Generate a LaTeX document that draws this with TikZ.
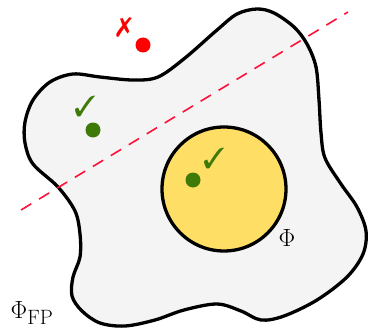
\documentclass[tikz,border=0pt]{standalone}
\usepackage{pifont}
\definecolor{eggwhite}{RGB}{244,244,244}
\definecolor{yolk}{RGB}{255,222,102}
\definecolor{okgreen}{RGB}{62,122,8}
\definecolor{badred}{RGB}{255,0,0}
\definecolor{cutred}{RGB}{255,16,56}
\begin{document}
\begin{tikzpicture}[x=1pt,y=-1pt,
  outline/.style={line width=3.3pt,draw=black},
  dot/.style={circle,inner sep=0pt,minimum size=15pt},
  gooddot/.style={dot,fill=okgreen},
  baddot/.style={dot,fill=badred},
  goodmark/.style={text=okgreen,font=\fontsize{29}{31}\selectfont,inner sep=0pt},
  badmark/.style={text=badred,font=\fontsize{27}{29}\selectfont,inner sep=0pt},
  lbl/.style={font=\fontsize{30}{32}\selectfont,inner sep=0pt}]
\useasboundingbox (0,0) rectangle (369,329);
% egg white
\draw[outline,fill=eggwhite] plot[smooth cycle,tension=0.55] coordinates {
 (73,74) (100,77) (133,80) (158,77) (185,58) (217,30) (237,14) (257,9)
 (274,13) (294,27) (307,44) (316,67) (319,100) (321,133) (325,158)
 (341,184) (357,207) (366,231) (363,254) (347,277) (317,300) (284,316)
 (261,320) (241,311) (217,304) (184,310) (155,320) (125,326) (100,323)
 (82,311) (72,296) (73,277) (80,257) (80,234) (75,211) (58,187) (33,164)
 (25,143) (25,122) (33,100) (50,82)};
% yolk
\node[circle,outline,fill=yolk,minimum size=124pt,inner sep=0pt] (yolk) at (224,189) {};
% cut line
\coordinate (c1) at (21,210);
\coordinate (c2) at (348,12);
\draw[cutred,line width=1.6pt,dash pattern=on 12pt off 9pt] (c1) -- (c2);
% points
\node[baddot] (p1) at (143,45) {};
\node[badmark] (m1) at (124,28) {\ding{55}};
\node[gooddot] (p2) at (93,130) {};
\node[goodmark] (m2) at (85,106) {\ding{51}};
\node[gooddot] (p3) at (193,180) {};
\node[goodmark] (m3) at (214,158) {\ding{51}};
% labels
\node[lbl] (phi) at (287,238) {$\Phi$};
\node[lbl] (phifp) at (32,313) {$\Phi_{\mathrm{FP}}$};
\end{tikzpicture}
\end{document}
